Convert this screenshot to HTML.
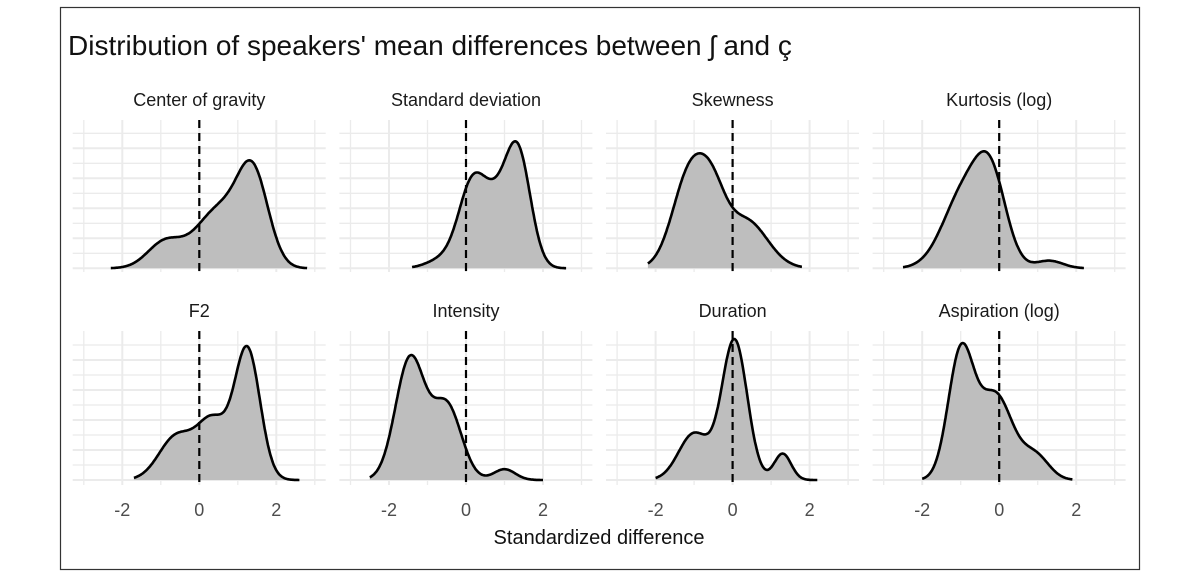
<!DOCTYPE html>
<html><head><meta charset="utf-8"><style>
html,body{margin:0;padding:0;background:#fff;}
svg{display:block;}
text{font-family:"Liberation Sans",sans-serif;}
</style></head><body>
<svg id="s" width="1200" height="579" viewBox="0 0 1200 579" xmlns="http://www.w3.org/2000/svg">
<rect x="0" y="0" width="1200" height="579" fill="#fff"/>
<rect x="60.5" y="7.5" width="1079" height="562" fill="none" stroke="#333" stroke-width="1.2"/>
<text x="68" y="55" font-size="28" fill="#111">Distribution of speakers' mean differences between ʃ and ç</text>
<text x="599" y="544" font-size="20" fill="#111" text-anchor="middle">Standardized difference</text>
<g id="g"></g>
</svg>
<script>
var g=document.getElementById('g'),out='';
var U=38.5,X0=[199.3,466,732.6,999.2];
var panels=[
 {t:'Center of gravity',r:0,c:0,h:108,lo:-2.3,hi:2.8,m:[[-0.9,0.45,0.22],[0.5,0.6,0.5],[1.4,0.4,0.75]]},
 {t:'Standard deviation',r:0,c:1,h:127,lo:-1.4,hi:2.6,m:[[0.15,0.35,0.7],[0.75,0.35,0.45],[1.35,0.33,1.0],[-0.6,0.4,0.08]]},
 {t:'Skewness',r:0,c:2,h:115,lo:-2.2,hi:1.8,m:[[-1.1,0.45,0.8],[-0.5,0.35,0.4],[0.35,0.55,0.4]]},
 {t:'Kurtosis (log)',r:0,c:3,h:117,lo:-2.5,hi:2.2,m:[[-0.9,0.55,0.6],[-0.2,0.4,0.6],[1.3,0.35,0.06]]},
 {t:'F2',r:1,c:0,h:134,lo:-1.7,hi:2.6,m:[[-0.6,0.45,0.3],[0.35,0.4,0.4],[1.25,0.33,0.9]]},
 {t:'Intensity',r:1,c:1,h:125,lo:-2.5,hi:2.0,m:[[-1.45,0.38,0.9],[-0.5,0.38,0.55],[1.0,0.28,0.08]]},
 {t:'Duration',r:1,c:2,h:141,lo:-2.0,hi:2.2,m:[[-1.0,0.4,0.3],[0.05,0.33,0.9],[1.3,0.22,0.17]]},
 {t:'Aspiration (log)',r:1,c:3,h:137,lo:-2.0,hi:1.9,m:[[-1.0,0.33,0.8],[-0.1,0.45,0.55],[0.95,0.35,0.15]]}
];
var rows=[{base:268.3,top:120,bot:272,ty:106,hl:133.3},{base:480,top:331,bot:485,ty:317,hl:345}];
function f(p,x){var s=0;p.m.forEach(function(c){s+=c[2]*Math.exp(-0.5*Math.pow((x-c[0])/c[1],2));});return s;}
panels.forEach(function(p){
 var R=rows[p.r],x0=X0[p.c],L=x0-126.6,Rr=x0+126.4;
 var step=(R.base-R.hl)/9;
 for(var i=0;i<10;i++){var y=R.hl+i*step;out+='<line x1="'+L+'" x2="'+Rr+'" y1="'+y+'" y2="'+y+'" stroke="#ebebeb" stroke-width="'+(i%2?2:1.3)+'"/>';}
 for(var k=-3;k<=3;k++){var x=x0+k*U;out+='<line x1="'+x+'" x2="'+x+'" y1="'+R.top+'" y2="'+R.bot+'" stroke="#ebebeb" stroke-width="'+(k%2==0?2:1.3)+'"/>';}
 var N=200,mx=0,pts=[];
 for(var j=0;j<=N;j++){var xv=p.lo+(p.hi-p.lo)*j/N;var v=f(p,xv);pts.push([xv,v]);if(v>mx)mx=v;}
 var d='';
 pts.forEach(function(q,j){var px=x0+q[0]*U,py=R.base-q[1]/mx*p.h;d+=(j?'L':'M')+px.toFixed(1)+' '+py.toFixed(1);});
 out+='<path d="'+d+'L'+(x0+p.hi*U)+' '+R.base+'L'+(x0+p.lo*U)+' '+R.base+'Z" fill="#bebebe"/>';
 out+='<path d="'+d+'" fill="none" stroke="#000" stroke-width="2.6" stroke-linejoin="round"/>';
 out+='<line x1="'+x0+'" x2="'+x0+'" y1="'+R.top+'" y2="'+(R.bot+2)+'" stroke="#000" stroke-width="2.2" stroke-dasharray="8,5"/>';
 out+='<text x="'+x0+'" y="'+R.ty+'" font-size="18" fill="#1a1a1a" text-anchor="middle">'+p.t+'</text>';
 if(p.r==1){[-2,0,2].forEach(function(k){out+='<text x="'+(x0+k*U)+'" y="516" font-size="18" fill="#4d4d4d" text-anchor="middle">'+k+'</text>';});}
});
g.innerHTML=out;
</script>
</body></html>
